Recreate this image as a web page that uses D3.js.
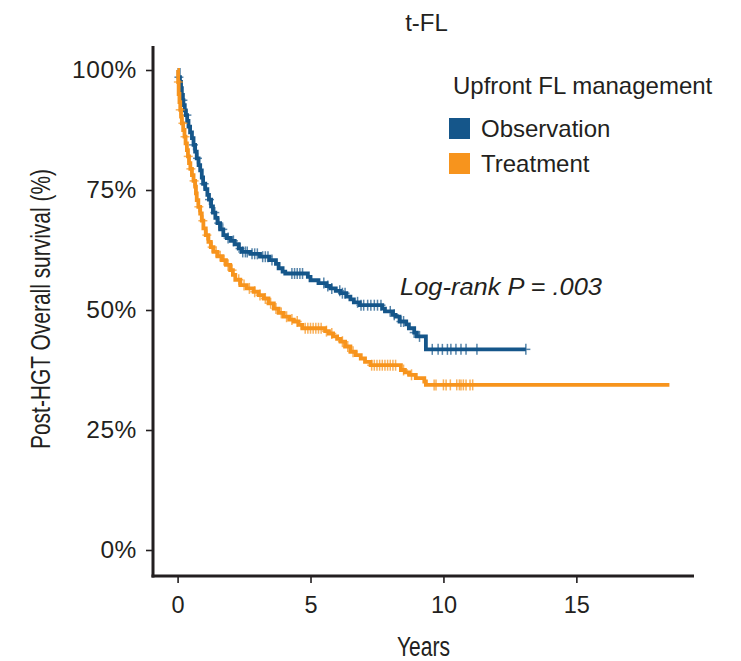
<!DOCTYPE html>
<html>
<head>
<meta charset="utf-8">
<script src="https://cdn.jsdelivr.net/npm/d3@7"></script>
<style>
  body { margin: 0; background: #fff; }
  text { font-family: "Liberation Sans", Arial, Helvetica, sans-serif; fill: #231f20; }
</style>
</head>
<body>
<svg id="chart" width="741" height="661"></svg>
<script>
// Kaplan-Meier estimates of post-HGT overall survival, by upfront FL management
const groups = ["Observation", "Treatment"];
const groupColors = ["#15568a", "#f7941d"];

// Observation arm: event times (years) and survival after each step
const obsTimes = [0, 0.04, 0.09, 0.13, 0.16, 0.20, 0.22, 0.27, 0.31, 0.36, 0.41, 0.47, 0.54, 0.60, 0.66, 0.72,
  0.79, 0.85, 0.91, 0.96, 1.04, 1.12, 1.18, 1.26, 1.33, 1.42, 1.50, 1.60, 1.72, 1.85, 2.00, 2.15, 2.30, 2.42,
  2.74, 3.10, 3.45, 3.70, 3.80, 3.95, 4.05, 4.90, 5.00, 5.30, 5.60, 5.75, 5.95, 6.13, 6.35, 6.50, 6.63, 6.85,
  7.70, 7.80, 8.10, 8.20, 8.35, 8.60, 8.70, 8.90, 9.00, 9.34];
const obsSurv = [1.000, 0.985, 0.975, 0.962, 0.948, 0.937, 0.927, 0.916, 0.906, 0.894, 0.882, 0.870, 0.858, 0.844,
  0.830, 0.816, 0.802, 0.791, 0.776, 0.763, 0.752, 0.740, 0.730, 0.716, 0.703, 0.692, 0.681, 0.668, 0.656, 0.650,
  0.644, 0.637, 0.628, 0.621, 0.617, 0.611, 0.604, 0.596, 0.587, 0.580, 0.576, 0.569, 0.562, 0.556, 0.550, 0.545,
  0.540, 0.535, 0.528, 0.522, 0.516, 0.510, 0.503, 0.497, 0.490, 0.486, 0.476, 0.470, 0.462, 0.453, 0.445, 0.418];
const obsCensor = [0.05, 0.20, 0.35, 0.60, 0.75, 1.00, 1.20, 1.40, 1.55, 1.70, 1.90, 2.10, 2.35, 2.45, 2.55, 2.62,
  2.80, 2.90, 3.00, 3.20, 3.30, 3.40, 3.55, 4.30, 4.40, 4.50, 4.60, 4.70, 5.50, 5.65, 5.80, 6.10, 6.20, 6.30,
  6.77, 6.90, 7.00, 7.15, 7.27, 7.40, 7.52, 7.65, 8.00, 8.15, 8.40, 8.50, 8.90, 9.10, 9.58, 9.80, 9.96, 10.15,
  10.28, 10.47, 10.66, 10.85, 11.26, 13.10];
const obsEnd = 13.1;

// Treatment arm
const trtTimes = [0, 0.02, 0.04, 0.07, 0.10, 0.13, 0.16, 0.21, 0.26, 0.30, 0.35, 0.39, 0.43, 0.48, 0.54, 0.60,
  0.66, 0.69, 0.72, 0.78, 0.85, 0.91, 0.97, 1.06, 1.16, 1.25, 1.35, 1.50, 1.67, 1.82, 1.98, 2.08, 2.17, 2.36,
  2.60, 2.86, 3.05, 3.24, 3.42, 3.62, 3.80, 3.99, 4.20, 4.37, 4.55, 4.69, 5.55, 5.69, 5.85, 6.00, 6.13, 6.30,
  6.50, 6.70, 6.89, 7.05, 7.26, 8.40, 8.55, 8.71, 8.96, 9.28, 9.34];
const trtSurv = [1.000, 0.975, 0.950, 0.933, 0.917, 0.903, 0.889, 0.875, 0.861, 0.847, 0.833, 0.820, 0.806, 0.794,
  0.781, 0.769, 0.757, 0.743, 0.729, 0.715, 0.701, 0.686, 0.670, 0.656, 0.642, 0.631, 0.621, 0.612, 0.604, 0.594,
  0.583, 0.573, 0.563, 0.552, 0.545, 0.538, 0.531, 0.524, 0.514, 0.503, 0.494, 0.486, 0.480, 0.476, 0.469, 0.462,
  0.456, 0.451, 0.445, 0.440, 0.434, 0.424, 0.413, 0.406, 0.399, 0.392, 0.385, 0.375, 0.370, 0.365, 0.358, 0.351,
  0.344];
const trtCensor = [0.03, 0.10, 0.20, 0.28, 0.40, 0.50, 0.62, 0.80, 0.95, 1.10, 1.30, 1.45, 1.60, 1.75, 1.90, 2.05,
  2.30, 2.50, 2.70, 2.90, 3.10, 3.30, 3.50, 3.70, 3.90, 4.10, 4.30, 4.50, 4.80, 4.90, 5.00, 5.10, 5.20, 5.30,
  5.40, 5.60, 5.80, 6.20, 6.40, 6.60, 7.30, 7.40, 7.50, 7.60, 7.70, 7.80, 7.90, 8.00, 8.10, 8.20, 8.50, 8.80,
  9.65, 9.72, 10.00, 10.10, 10.26, 10.50, 10.60, 10.66, 10.75, 10.85, 11.00, 11.10];
const trtEnd = 18.5;

const xTicks = [0, 5, 10, 15];
const yTicks = [0, 0.25, 0.5, 0.75, 1];
const yTickLabels = ["0%", "25%", "50%", "75%", "100%"];
const chartTitle = "t-FL";
const legendTitle = "Upfront FL management";
const xTitle = "Years";
const yTitle = "Post-HGT Overall survival (%)";
const pValueText = "Log-rank P = .003";

const series = [
  { name: groups[0], color: groupColors[0], times: obsTimes, surv: obsSurv, censor: obsCensor, end: obsEnd },
  { name: groups[1], color: groupColors[1], times: trtTimes, surv: trtSurv, censor: trtCensor, end: trtEnd }
];

const svg = d3.select("#chart");
const panel = { left: 153, right: 694, top: 46, bottom: 574 };

// 5% padding on both scales around the data range
const xMax = trtEnd;
const x = d3.scaleLinear().domain([-0.05 * xMax, 1.05 * xMax]).range([panel.left, panel.right]);
const y = d3.scaleLinear().domain([-0.05, 1.05]).range([panel.bottom, panel.top]);

function survAt(s, t) {
  const i = d3.bisectRight(s.times, t) - 1;
  return s.surv[Math.max(0, i)];
}

const line = d3.line().x(d => x(d[0])).y(d => y(d[1])).curve(d3.curveStepAfter);

const plot = svg.append("g");
series.forEach(s => {
  const pts = s.times.map((t, i) => [t, s.surv[i]]);
  pts.push([s.end, s.surv[s.surv.length - 1]]);
  plot.append("path")
    .datum(pts)
    .attr("fill", "none")
    .attr("stroke", s.color)
    .attr("stroke-width", 3.8)
    .attr("stroke-linejoin", "miter")
    .attr("d", line);

  // censoring marks "+"
  const cg = plot.append("g").attr("stroke", s.color).attr("stroke-width", 1.5).attr("opacity", 0.72);
  s.censor.forEach(c => {
    const cx = x(c), cy = y(survAt(s, c));
    cg.append("line").attr("x1", cx).attr("x2", cx).attr("y1", cy - 5.5).attr("y2", cy + 5.5);
    cg.append("line").attr("x1", cx - 4.5).attr("x2", cx + 4.5).attr("y1", cy).attr("y2", cy);
  });
});

// Axes
const xAxis = d3.axisBottom(x).tickValues(xTicks).tickSize(7).tickPadding(8).tickFormat(d3.format("d"));
const yAxis = d3.axisLeft(y).tickValues(yTicks).tickSize(7).tickPadding(9).tickFormat((d, i) => yTickLabels[i]);

const gx = svg.append("g").attr("transform", `translate(0,${panel.bottom + 2})`).call(xAxis);
const gy = svg.append("g").attr("transform", `translate(${panel.left},0)`).call(yAxis);
[gx, gy].forEach(g => {
  g.select(".domain").remove();
  g.selectAll(".tick line").attr("stroke", "#231f20").attr("stroke-width", 1.6);
  g.selectAll(".tick text").style("font-family", "Liberation Sans, Arial, sans-serif").attr("fill", "#231f20");
});
gx.selectAll(".tick text").style("font-size", "23.5px").attr("dy", "0.95em");
gy.selectAll(".tick text").style("font-size", "24.5px").style("letter-spacing", "0.6px");

svg.append("line").attr("x1", panel.left).attr("x2", panel.left).attr("y1", panel.top).attr("y2", panel.bottom + 3.5)
  .attr("stroke", "#231f20").attr("stroke-width", 3);
svg.append("line").attr("x1", panel.left - 1.5).attr("x2", panel.right).attr("y1", panel.bottom + 2).attr("y2", panel.bottom + 2)
  .attr("stroke", "#231f20").attr("stroke-width", 3);

// Titles
const midX = (panel.left + panel.right) / 2;
svg.append("text").attr("x", midX + 3).attr("y", 31).attr("text-anchor", "middle")
  .style("font-size", "24px").text(chartTitle);

svg.append("text").attr("x", midX).attr("y", 656).attr("text-anchor", "middle")
  .attr("textLength", 53).attr("lengthAdjust", "spacingAndGlyphs")
  .style("font-size", "27px").text(xTitle);

svg.append("text").attr("transform", `translate(50,${(panel.top + panel.bottom) / 2 - 1}) rotate(-90)`)
  .attr("text-anchor", "middle")
  .attr("textLength", 280).attr("lengthAdjust", "spacingAndGlyphs")
  .style("font-size", "27px").text(yTitle);

// Log-rank annotation
svg.append("text").attr("x", 400).attr("y", 295)
  .attr("textLength", 202).attr("lengthAdjust", "spacingAndGlyphs")
  .style("font-size", "24.5px").style("font-style", "italic").text(pValueText);

// Legend
const legend = svg.append("g").attr("transform", "translate(449,0)");
legend.append("text").attr("x", 4).attr("y", 94).style("font-size", "24px").text(legendTitle);
series.forEach((s, i) => {
  const gy0 = 118 + i * 35;
  legend.append("rect").attr("x", 0).attr("y", gy0).attr("width", 21).attr("height", 21).attr("fill", s.color);
  legend.append("text").attr("x", 32).attr("y", gy0 + 19).style("font-size", "24px").text(s.name);
});
</script>
</body>
</html>
